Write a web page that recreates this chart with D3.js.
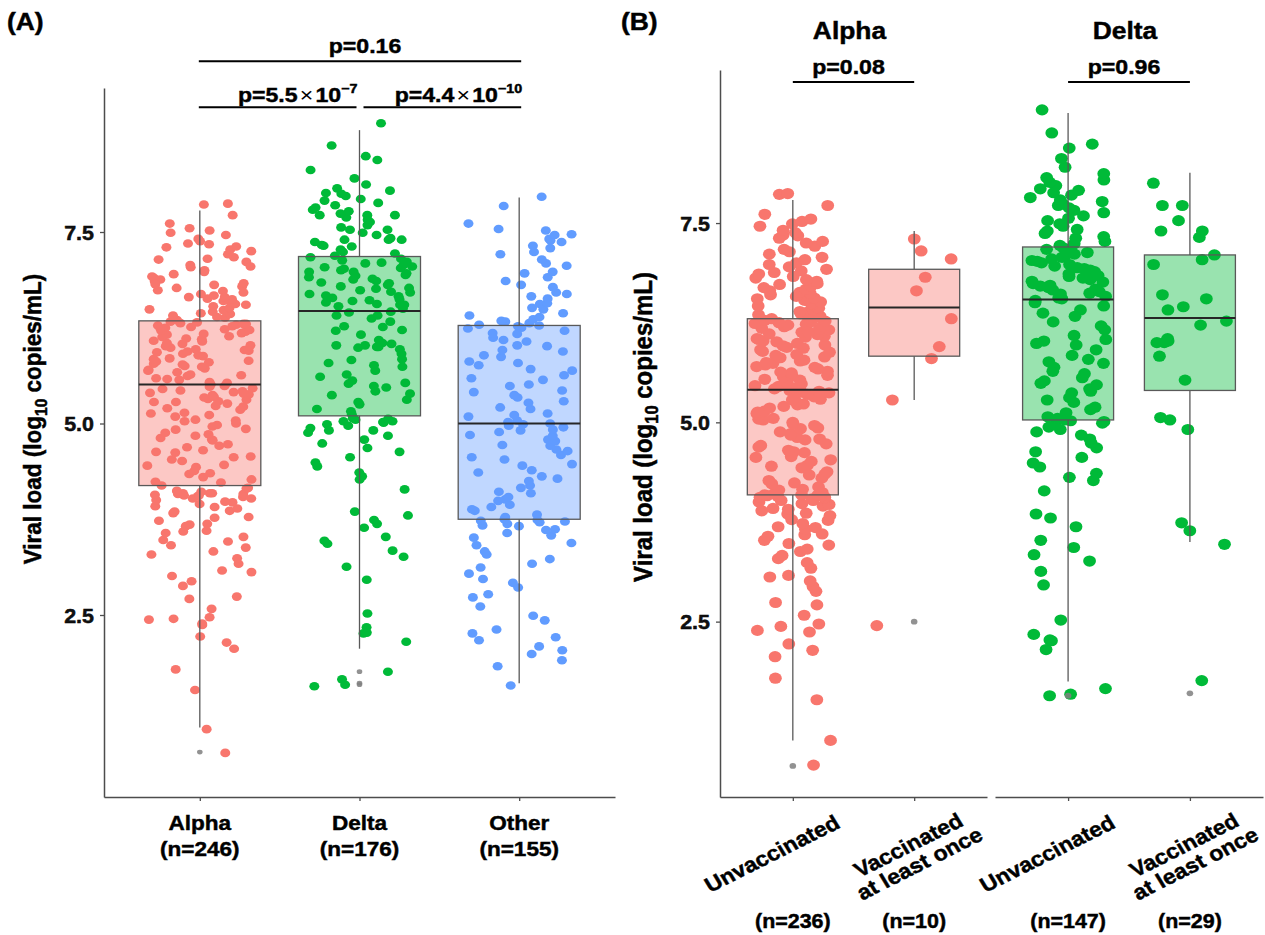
<!DOCTYPE html>
<html lang="en">
<head>
<meta charset="UTF-8">
<title>Viral load by variant and vaccination status</title>
<script src="https://cdn.jsdelivr.net/npm/d3@7"></script>
<style>
  body { margin: 0; background: #fff; }
  svg { display: block; font-family: "Liberation Sans", Arial, sans-serif; font-weight: bold; }
  svg text { stroke: #000; stroke-width: 0.45px; }
</style>
</head>
<body>
<svg id="chart" width="1265" height="935"></svg>
<script>
// ---- data ----
const variants   = ["Alpha", "Delta", "Other"];
const variantN   = ["(n=246)", "(n=176)", "(n=155)"];
const vaccGroups = ["Unvaccinated", "Vaccinated"];
const vaccLines  = [["Unvaccinated"], ["Vaccinated", "at least once"]];
const alphaVaccN = ["(n=236)", "(n=10)"];
const deltaVaccN = ["(n=147)", "(n=29)"];
const yTicks     = [2.5, 5.0, 7.5];

const alphaUnvacc = [
  0.70, 1.01, 1.52, 1.79, 2.06, 2.14, 2.22, 2.37, 2.39, 2.44,
  2.47, 2.58, 2.71, 2.74, 2.88, 2.94, 3.01, 3.06, 3.08, 3.17,
  3.24, 3.29, 3.33, 3.38, 3.41, 3.46, 3.48, 3.52, 3.57, 3.59,
  3.60, 3.66, 3.68, 3.69, 3.73, 3.77, 3.78, 3.83, 3.85, 3.86,
  3.89, 3.91, 3.92, 3.95, 3.97, 3.98, 4.00, 4.02, 4.02, 4.04,
  4.05, 4.06, 4.06, 4.07, 4.08, 4.08, 4.09, 4.09, 4.09,
  4.11, 4.12, 4.15, 4.16, 4.19, 4.23, 4.24, 4.27, 4.30, 4.34,
  4.35, 4.38, 4.43, 4.45, 4.46, 4.51, 4.53, 4.56, 4.57, 4.62,
  4.63, 4.65, 4.69, 4.71, 4.73, 4.78, 4.79, 4.81, 4.84, 4.86,
  4.88, 4.92, 4.93, 4.96, 4.98, 5.00, 5.03, 5.04, 5.05, 5.09,
  5.11, 5.13, 5.14, 5.18, 5.20, 5.22, 5.23, 5.26, 5.28, 5.29,
  5.31, 5.32, 5.34, 5.35, 5.37, 5.38, 5.39, 5.40, 5.41,
  5.42, 5.43, 5.45, 5.46, 5.48, 5.49, 5.51, 5.53, 5.54, 5.57,
  5.58, 5.59, 5.62, 5.63, 5.64, 5.67, 5.69, 5.70, 5.72, 5.74,
  5.75, 5.77, 5.78, 5.81, 5.82, 5.84, 5.85, 5.88, 5.89, 5.91,
  5.93, 5.94, 5.96, 5.97, 5.99, 6.01, 6.02, 6.04, 6.05, 6.07,
  6.08, 6.10, 6.11, 6.13, 6.14, 6.16, 6.17, 6.18, 6.20, 6.21,
  6.22, 6.23, 6.24, 6.25, 6.26, 6.27, 6.28, 6.29, 6.30,
  6.31, 6.32, 6.33, 6.35, 6.36, 6.38, 6.39, 6.41, 6.43, 6.44,
  6.46, 6.48, 6.49, 6.51, 6.53, 6.55, 6.56, 6.58, 6.60, 6.62,
  6.63, 6.65, 6.67, 6.69, 6.71, 6.73, 6.74, 6.77, 6.79, 6.81,
  6.83, 6.86, 6.88, 6.90, 6.92, 6.95, 6.98, 7.00, 7.04, 7.07,
  7.11, 7.14, 7.17, 7.21, 7.25, 7.27, 7.31, 7.34, 7.35, 7.38,
  7.41, 7.46, 7.49, 7.52, 7.55, 7.61, 7.72, 7.86, 7.87
];
const alphaVacc = [2.45, 5.28, 5.80, 5.95, 6.30, 6.65, 6.82, 7.05, 7.15, 7.30];

const deltaUnvacc = [
  1.57, 1.59, 1.66, 2.15, 2.26, 2.27, 2.34, 2.52, 2.96, 3.13,
  3.26, 3.34, 3.43, 3.52, 3.69, 3.80, 3.85, 4.14, 4.27, 4.31,
  4.36, 4.44, 4.49, 4.56, 4.63, 4.68, 4.74, 4.79, 4.84, 4.88,
  4.91, 4.94, 4.97, 4.99, 5.01, 5.02, 5.03,
  5.05, 5.07, 5.12, 5.16, 5.19, 5.25, 5.28, 5.31, 5.37, 5.39,
  5.42, 5.47, 5.49, 5.52, 5.56, 5.61, 5.64, 5.69, 5.74, 5.76,
  5.79, 5.84, 5.91, 5.97, 5.99, 6.02, 6.04, 6.09, 6.16, 6.21,
  6.26, 6.33, 6.37, 6.41, 6.46, 6.50, 6.53,
  6.55, 6.56, 6.58, 6.61, 6.62, 6.64, 6.66, 6.67, 6.69, 6.71,
  6.72, 6.74, 6.76, 6.77, 6.79, 6.81, 6.83, 6.84, 6.86, 6.88,
  6.89, 6.91, 6.93, 6.94, 6.96, 6.98, 7.00, 7.02, 7.03, 7.05,
  7.07, 7.09, 7.11, 7.13, 7.15, 7.17, 7.19,
  7.22, 7.24, 7.27, 7.31, 7.33, 7.37, 7.40, 7.42, 7.46, 7.49,
  7.53, 7.56, 7.59, 7.63, 7.66, 7.69, 7.72, 7.74, 7.77, 7.79,
  7.82, 7.85, 7.88, 7.91, 7.93, 7.97, 8.01, 8.04, 8.07, 8.12,
  8.20, 8.31, 8.44, 8.49, 8.63, 8.92
];
const deltaVacc = [
  1.76, 3.47, 3.64, 3.74, 4.91, 5.03, 5.06, 5.53, 5.83, 6.00,
  6.00, 6.02, 6.05, 6.22, 6.27, 6.41, 6.45, 6.55, 6.60, 6.98,
  7.04, 7.10, 7.32, 7.40, 7.40, 7.53, 7.72, 7.72, 8.00
];

const otherAll = [
  1.58, 1.83, 1.91, 1.99, 2.04, 2.09, 2.17, 2.21, 2.26, 2.31,
  2.43, 2.49, 2.61, 2.73, 2.77, 2.86, 2.92, 2.97, 3.04, 3.12,
  3.17, 3.23, 3.29, 3.33, 3.41, 3.44, 3.51, 3.54, 3.57, 3.61,
  3.62, 3.66, 3.67, 3.69, 3.71, 3.72, 3.73, 3.74, 3.75,
  3.78, 3.81, 3.86, 3.88, 3.91, 3.94, 3.99, 4.01, 4.04, 4.09,
  4.11, 4.16, 4.19, 4.25, 4.28, 4.31, 4.36, 4.39, 4.45, 4.47,
  4.53, 4.56, 4.59, 4.64, 4.66, 4.71, 4.72, 4.77, 4.79, 4.84,
  4.85, 4.89, 4.91, 4.92, 4.95, 4.97, 4.99, 5.00,
  5.02, 5.04, 5.09, 5.11, 5.13, 5.19, 5.21, 5.27, 5.29, 5.34,
  5.37, 5.41, 5.43, 5.49, 5.51, 5.57, 5.59, 5.63, 5.69, 5.71,
  5.76, 5.79, 5.81, 5.87, 5.89, 5.94, 5.96, 6.01, 6.02, 6.07,
  6.09, 6.12, 6.17, 6.18, 6.21, 6.24, 6.25, 6.27, 6.28,
  6.29, 6.31, 6.33, 6.34, 6.36, 6.39, 6.41, 6.44, 6.49, 6.51,
  6.56, 6.57, 6.63, 6.66, 6.69, 6.71, 6.78, 6.81, 6.86, 6.91,
  6.96, 6.98, 7.06, 7.09, 7.14, 7.21, 7.24, 7.29, 7.32, 7.37,
  7.39, 7.41, 7.46, 7.47, 7.52, 7.54, 7.61, 7.84, 7.96
];

// box statistics: [lower whisker, Q1, median, Q3, upper whisker]
const boxVariant     = [[1.03, 4.19, 5.51, 6.34, 7.78], [2.06, 5.10, 6.47, 7.18, 8.83], [1.61, 3.75, 5.00, 6.28, 7.95]];
const outVariant     = [[0.71], [1.76, 1.61, 1.59], []];
const boxAlphaVacc   = [[1.01, 4.09, 5.41, 6.30, 7.79], [5.28, 5.83, 6.44, 6.92, 7.40]];
const outAlphaVacc   = [[0.69], [2.50]];
const boxDeltaVacc   = [[1.75, 5.03, 6.54, 7.20, 8.88], [3.50, 5.40, 6.31, 7.10, 8.13]];
const outDeltaVacc   = [[1.57], [1.60]];

const sigPairsA = [["Alpha", "Delta"], ["Delta", "Other"], ["Alpha", "Other"]];
const sigBaseA  = ["p=5.5", "p=4.4", "p=0.16"];
const sigExpA   = ["\u22127", "\u221210", null];
const sigB      = ["p=0.08", "p=0.96"];

// ---- layout ----
const SX = 1.1;   // the source figure is slightly stretched horizontally
const colors = { Alpha: "#F8766D", Delta: "#00BA38", Other: "#619CFF" };
const svg = d3.select("#chart");

const yA = d3.scaleLinear().domain([0.124, 9.38]).range([797, 88]);
const xA = d3.scalePoint().domain(variants).range([104, 615]).padding(0.6);
const yB = d3.scaleLinear().domain([0.30, 9.42]).range([797, 70]);
const xBa = d3.scalePoint().domain(vaccGroups).range([720, 987]).padding(0.6);
const xBd = d3.scalePoint().domain(vaccGroups).range([995, 1263]).padding(0.6);

function txt(g, x, y, s, size, anchor, rot) {
  return g.append("text")
    .attr("transform", `translate(${x},${y}) scale(${SX},1)` + (rot ? ` rotate(${rot})` : ""))
    .attr("text-anchor", anchor || "middle")
    .attr("font-size", size)
    .attr("fill", "#000")
    .text(s);
}

// fixed pseudo-jitter so the picture does not change between runs
function jit(i, seed) {
  const s = Math.sin((i + 1) * 12.9898 + seed * 78.233) * 43758.5453;
  return (s - Math.floor(s)) * 2 - 1;
}

function drawGroup(g, cx, y, vals, stats, outl, color, o) {
  g.append("g").selectAll("ellipse").data(vals).join("ellipse")
    .attr("cx", (d, i) => cx + jit(i, o.seed) * o.jit)
    .attr("cy", d => y(d))
    .attr("rx", o.rx).attr("ry", o.ry)
    .attr("fill", color);

  const [lo, q1, med, q3, hi] = stats;
  const b = g.append("g").attr("stroke", "#595959");
  b.append("line").attr("x1", cx).attr("x2", cx).attr("y1", y(hi)).attr("y2", y(q3)).attr("stroke-width", 1.3);
  b.append("line").attr("x1", cx).attr("x2", cx).attr("y1", y(q1)).attr("y2", y(lo)).attr("stroke-width", 1.3);
  b.append("rect")
    .attr("x", cx - o.half).attr("width", 2 * o.half)
    .attr("y", y(q3)).attr("height", y(q1) - y(q3))
    .attr("fill", color).attr("fill-opacity", 0.4).attr("stroke-width", 1.3);
  b.append("line").attr("x1", cx - o.half).attr("x2", cx + o.half)
    .attr("y1", y(med)).attr("y2", y(med)).attr("stroke", "#262626").attr("stroke-width", 2);
  b.selectAll("ellipse").data(outl).join("ellipse")
    .attr("cx", cx).attr("cy", d => y(d)).attr("rx", o.orx).attr("ry", o.ory)
    .attr("stroke", "none").attr("fill", "#7f7f7f").attr("fill-opacity", 0.85);
}

function styleAxis(g) {
  g.select(".domain").attr("stroke", "#4d4d4d").attr("stroke-width", 1.5);
  g.selectAll(".tick line").attr("stroke", "#4d4d4d").attr("stroke-width", 1.3);
}

function yAxis(x, y) {
  const g = svg.append("g").attr("transform", `translate(${x},0)`)
    .call(d3.axisLeft(y).tickValues(yTicks).tickFormat(d3.format(".1f")).tickSize(4).tickSizeOuter(0));
  styleAxis(g);
  g.selectAll(".tick text")
    .attr("x", 0).attr("dy", null)
    .attr("transform", `translate(-10,7) scale(${SX},1)`)
    .attr("font-size", 19.5).attr("fill", "#111");
  g.attr("font-family", null).attr("font-size", null);
}

function xAxis(x, y) {
  const g = svg.append("g").attr("transform", `translate(0,${y})`)
    .call(d3.axisBottom(x).tickSize(4).tickSizeOuter(0).tickFormat(""));
  styleAxis(g);
}

function pText(g, x, y, anchor, base, exp, size) {
  const t = g.append("text")
    .attr("transform", `translate(${x},${y}) scale(${SX},1)`)
    .attr("text-anchor", anchor).attr("font-size", size);
  t.append("tspan").text(base);
  if (exp) {
    t.append("tspan").attr("font-weight", "normal").attr("stroke-width", 0).attr("dx", 2).text("\u00d7");
    t.append("tspan").attr("dx", 2).text("10");
    t.append("tspan").attr("font-size", size * 0.62).attr("dy", -size * 0.42).text(exp);
  }
}

// ---------- panel A ----------
const gA = svg.append("g");
variants.forEach((v, i) => {
  const vals = v === "Alpha" ? alphaUnvacc.concat(alphaVacc)
             : v === "Delta" ? deltaUnvacc.concat(deltaVacc) : otherAll;
  drawGroup(gA, xA(v), yA, vals, boxVariant[i], outVariant[i], colors[v],
    { half: 61, jit: 53, rx: 5, ry: 4.3, orx: 2.8, ory: 2.4, seed: i + 1 });
});
yAxis(104, yA);
xAxis(xA, 797);

variants.forEach((v, i) => {
  txt(gA, xA(v), 830, v, 20.5);
  txt(gA, xA(v), 856, variantN[i], 20.5);
});

const sigLevelA = [9.13, 9.13, 9.73];
sigPairsA.forEach(([a, b], i) => {
  let x1 = xA(a) - 1, x2 = xA(b) + 2;
  if (i === 0) x2 = xA(b) - 3;
  if (i === 1) x1 = xA(a) + 4;
  const ly = yA(sigLevelA[i]);
  gA.append("line").attr("x1", x1).attr("x2", x2).attr("y1", ly).attr("y2", ly)
    .attr("stroke", "#000").attr("stroke-width", 2);
  if (sigExpA[i]) pText(gA, x2 + 1, ly - 5.5, "end", sigBaseA[i], sigExpA[i], 21);
  else pText(gA, (x1 + x2) / 2 + 5, ly - 8, "middle", sigBaseA[i], null, 21);
});

txt(gA, 7, 30, "(A)", 24, "start");
const tA = gA.append("text")
  .attr("transform", `translate(41,419) scale(${SX},1) rotate(-90)`)
  .attr("text-anchor", "middle").attr("font-size", 22.5);
tA.append("tspan").text("Viral load (log");
tA.append("tspan").attr("font-size", 15.5).attr("dy", 5).text("10");
tA.append("tspan").attr("dy", -5).text(" copies/mL)");

// ---------- panel B ----------
const gB = svg.append("g");
const facets = [
  { name: "Alpha", x: xBa, sets: [alphaUnvacc, alphaVacc], box: boxAlphaVacc, out: outAlphaVacc, n: alphaVaccN },
  { name: "Delta", x: xBd, sets: [deltaUnvacc, deltaVacc], box: boxDeltaVacc, out: outDeltaVacc, n: deltaVaccN }
];
const sigLevelB = 9.27;

facets.forEach((f, fi) => {
  vaccGroups.forEach((grp, gi) => {
    drawGroup(gB, f.x(grp), yB, f.sets[gi], f.box[gi], f.out[gi], colors[f.name],
      { half: 45.5, jit: 38, rx: 6.4, ry: 5.6, orx: 3.3, ory: 2.9, seed: 10 + fi * 2 + gi });
  });
  xAxis(f.x, 797);

  const [r0, r1] = f.x.range();
  txt(gB, (r0 + r1) / 2 - 4, 39, f.name, 24);

  const x1 = f.x(vaccGroups[0]), x2 = f.x(vaccGroups[1]);
  const ly = yB(sigLevelB);
  gB.append("line").attr("x1", x1).attr("x2", x2).attr("y1", ly).attr("y2", ly)
    .attr("stroke", "#000").attr("stroke-width", 2);
  pText(gB, (x1 + x2) / 2 - 5, ly - 7.5, "middle", sigB[fi], null, 21);

  vaccGroups.forEach((grp, gi) => {
    const tx = f.x(grp);
    const lines = vaccLines[gi];
    const cx = lines.length === 1 ? tx - 17 : tx - 2;
    const cy = lines.length === 1 ? 860 : 851.5;
    const t = gB.append("text")
      .attr("transform", `translate(${cx},${cy}) scale(${SX},1) rotate(-29)`)
      .attr("text-anchor", "middle").attr("font-size", 21);
    lines.forEach((s, li) => t.append("tspan").attr("x", 0).attr("dy", li ? 21 : 0).text(s));
    txt(gB, tx, 928, f.n[gi], 19.5);
  });
});
yAxis(720, yB);

txt(gB, 621, 30, "(B)", 24, "start");
const tB = gB.append("text")
  .attr("transform", `translate(652,427) scale(${SX},1) rotate(-90)`)
  .attr("text-anchor", "middle").attr("font-size", 24);
tB.append("tspan").text("Viral load (log");
tB.append("tspan").attr("font-size", 16.5).attr("dy", 5).text("10");
tB.append("tspan").attr("dy", -5).text(" copies/mL)");
</script>
</body>
</html>
